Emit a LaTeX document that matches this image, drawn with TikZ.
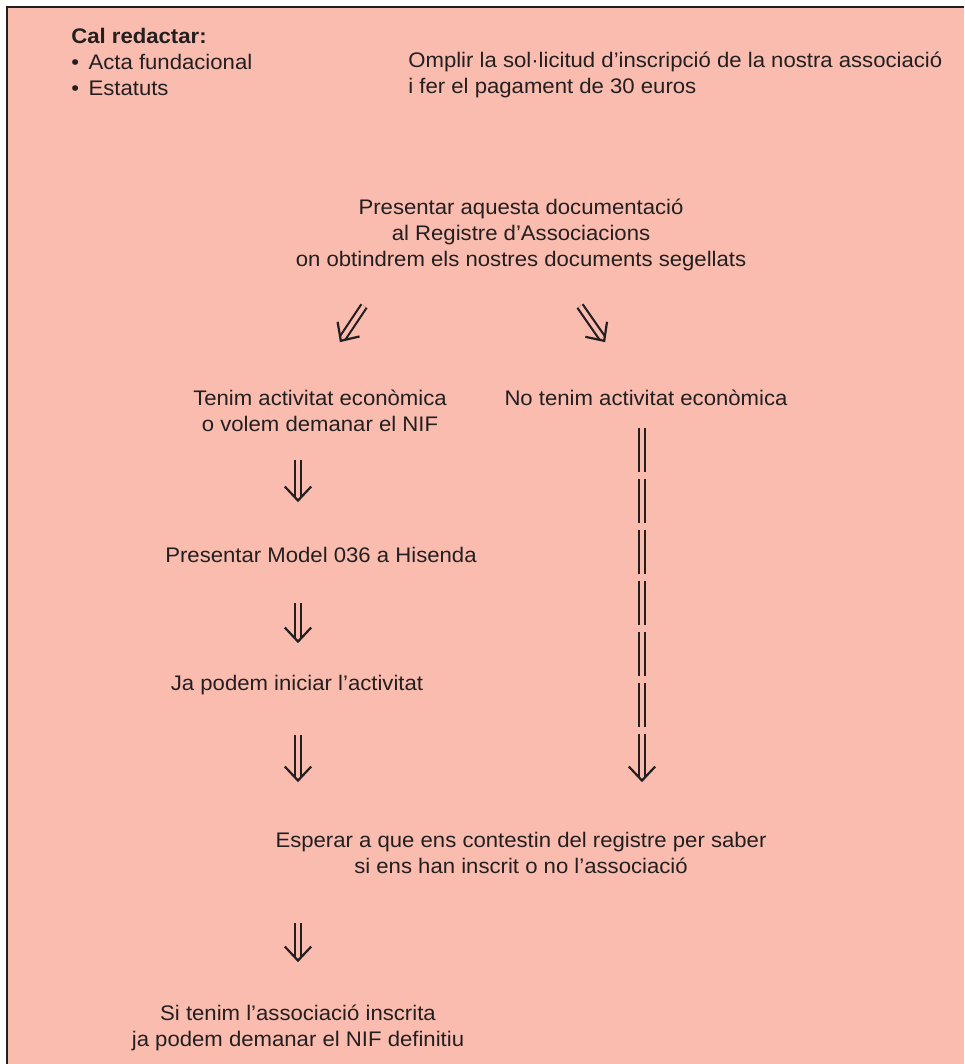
\documentclass[tikz,border=0pt]{standalone}
\usepackage{fontspec}
\setmainfont{Liberation Sans}[FakeStretch=1.05]
\usetikzlibrary{arrows.meta}
\definecolor{salmon}{HTML}{F9BCAF}
\definecolor{ink}{HTML}{231F20}
\pgfdeclarearrow{
  name = Chevron,
  setup code = {
    \pgfarrowssettipend{0.8pt}
    \pgfarrowssetlineend{-2.2pt}
    \pgfarrowssetvisualbackend{-8pt}
    \pgfarrowssetbackend{-8pt}
    \pgfarrowshullpoint{0.8pt}{0pt}
    \pgfarrowsupperhullpoint{-8pt}{7.5pt}
  },
  drawing code = {
    \pgfsetlinewidth{1.25pt}
    \pgfsetmiterjoin
    \pgfsetbuttcap
    \pgfsetdash{}{0pt}
    \pgfpathmoveto{\pgfqpoint{-8pt}{7.5pt}}
    \pgfpathlineto{\pgfqpoint{0pt}{0pt}}
    \pgfpathlineto{\pgfqpoint{-8pt}{-7.5pt}}
    \pgfusepathqstroke
  },
}

\begin{document}
\begin{tikzpicture}[x=0.02cm, y=-0.02cm,
    txt/.style={text=ink, font=\fontsize{12}{15}\selectfont, inner sep=0pt},
    dbl/.style={draw=ink, line width=1.25pt, double=salmon, double distance=2.3pt, -Chevron},
    dashdbl/.style={dbl, dash pattern=on 25pt off 4pt}]
              \useasboundingbox (0, 0) rectangle (964, 1064);
              \fill[salmon] (7, 7) rectangle (964, 1064);
              \draw[ink, line width=1.1pt] (7, 1064) -- (7, 7) -- (964, 7);
              \node[txt, anchor=west, align=left] (redactar) at (71, 62)
                {\textbf{Cal redactar:}\\ •\hspace{0.45em}Acta fundacional\\ •\hspace{0.45em}Estatuts};
              \node[txt, anchor=west, align=left] (omplir) at (408, 75)
                {Omplir la sol·licitud d’inscripció de la nostra associació\\ i fer el pagament de 30 euros};
              \node[txt, align=center] (registre) at (521, 235)
                {Presentar aquesta documentació\\ al Registre d’Associacions\\ on obtindrem els nostres documents segellats};
              \node[txt, align=center] (amb) at (320, 411)
                {Tenim activitat econòmica\\ o volem demanar el NIF};
              \node[txt] (sense) at (646, 398) {No tenim activitat econòmica};
              \node[txt] (model) at (321, 555) {Presentar Model 036 a Hisenda};
              \node[txt] (inici) at (297, 685) {Ja podem iniciar l’activitat};
              \node[txt, align=center] (esperar) at (521, 853)
                {Esperar a que ens contestin del registre per saber\\ si ens han inscrit o no l’associació};
              \node[txt, align=center] (nif) at (298, 1028)
                {Si tenim l’associació inscrita\\ ja podem demanar el NIF definitiu};
              \coordinate (sw-a) at (364, 306);
              \coordinate (sw-b) at (340, 342);
              \coordinate (se-a) at (580, 306);
              \coordinate (se-b) at (605, 342);
              \coordinate (amb-a) at (298, 460);
              \coordinate (amb-b) at (298, 502);
              \coordinate (model-a) at (298, 603);
              \coordinate (model-b) at (298, 643);
              \coordinate (inici-a) at (298, 735);
              \coordinate (inici-b) at (298, 782);
              \coordinate (sense-a) at (642, 428);
              \coordinate (sense-b) at (642, 782);
              \coordinate (esperar-a) at (298, 923);
              \coordinate (esperar-b) at (298, 962);
              \draw[dbl] (sw-a) -- (sw-b);
              \draw[dbl] (se-a) -- (se-b);
              \draw[dbl] (amb-a) -- (amb-b);
              \draw[dbl] (model-a) -- (model-b);
              \draw[dbl] (inici-a) -- (inici-b);
              \draw[dashdbl] (sense-a) -- (sense-b);
              \draw[dbl] (esperar-a) -- (esperar-b);
            \end{tikzpicture}
\end{document}
